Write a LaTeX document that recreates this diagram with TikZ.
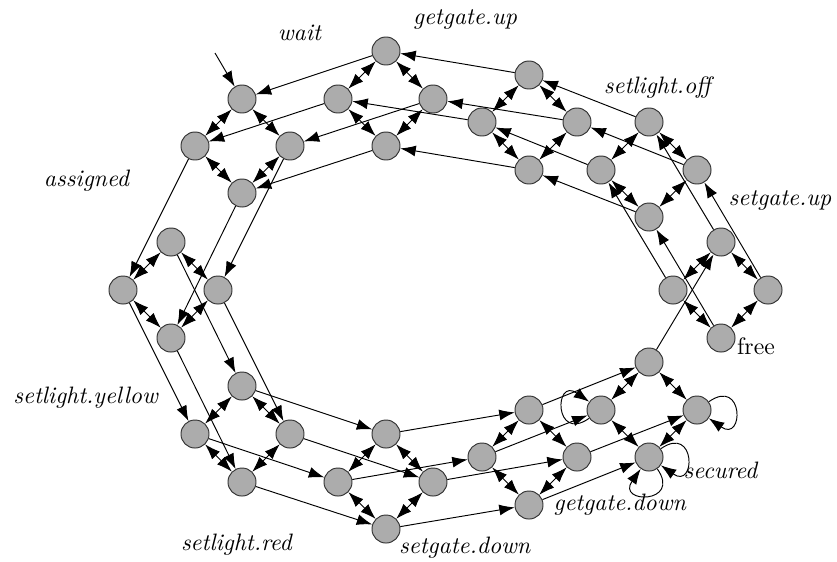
\documentclass[tikz,border=0pt]{standalone}
\usetikzlibrary{arrows.meta}
\begin{document}
\begin{tikzpicture}[scale=0.148]
    \tikzstyle{every node}+=[inner sep=0pt]
    \tikzstyle{state}=[circle, draw=black!80, fill=gray!65, minimum size=11.8pt]
    \tikzstyle{trans}=[black, -{Latex[length=6.5pt,width=4.6pt]}]
    \tikzstyle{both}=[black, {Latex[length=6.5pt,width=4.6pt]}-{Latex[length=6.5pt,width=4.6pt]}]
    \useasboundingbox (0,0) rectangle (83.7,-56.1);
    % wait
    \node [state] (d1t) at (24.2,-9.9) {};
    \node [state] (d1l) at (19.5,-14.6) {};
    \node [state] (d1r) at (29.0,-14.6) {};
    \node [state] (d1b) at (24.2,-19.3) {};
    % getgate.up
    \node [state] (d2t) at (38.6,-5.1) {};
    \node [state] (d2l) at (33.8,-9.9) {};
    \node [state] (d2r) at (43.3,-9.9) {};
    \node [state] (d2b) at (38.6,-14.6) {};
    \node [state] (d3t) at (52.9,-7.5) {};
    \node [state] (d3l) at (48.2,-12.2) {};
    \node [state] (d3r) at (57.7,-12.2) {};
    \node [state] (d3b) at (52.9,-17.0) {};
    % setlight.off
    \node [state] (d4t) at (64.9,-12.2) {};
    \node [state] (d4l) at (60.1,-17.0) {};
    \node [state] (d4r) at (69.7,-17.0) {};
    \node [state] (d4b) at (64.9,-21.7) {};
    % setgate.up
    \node [state] (d5t) at (72.1,-24.2) {};
    \node [state] (d5l) at (67.3,-29.0) {};
    \node [state] (d5r) at (76.8,-29.0) {};
    \node [state] (d5b) at (72.1,-33.8) {};
    % secured
    \node [state] (d6t) at (64.9,-36.2) {};
    \node [state] (d6l) at (60.1,-41.0) {};
    \node [state] (d6r) at (69.7,-41.0) {};
    \node [state] (d6b) at (64.9,-45.7) {};
    % getgate.down
    \node [state] (d7t) at (52.9,-41.0) {};
    \node [state] (d7l) at (48.2,-45.7) {};
    \node [state] (d7r) at (57.7,-45.7) {};
    \node [state] (d7b) at (52.9,-50.5) {};
    % setgate.down
    \node [state] (d8t) at (38.6,-43.4) {};
    \node [state] (d8l) at (33.8,-48.2) {};
    \node [state] (d8r) at (43.3,-48.2) {};
    \node [state] (d8b) at (38.6,-52.9) {};
    % setlight.red
    \node [state] (d9t) at (24.2,-38.6) {};
    \node [state] (d9l) at (19.5,-43.4) {};
    \node [state] (d9r) at (29.0,-43.4) {};
    \node [state] (d9b) at (24.2,-48.2) {};
    % assigned
    \node [state] (d10t) at (17.1,-24.2) {};
    \node [state] (d10l) at (12.3,-29.0) {};
    \node [state] (d10r) at (21.8,-29.0) {};
    \node [state] (d10b) at (17.1,-33.8) {};
    % labels
    \node (lwait) at (30.0,-3.3) {\textit{wait}};
    \node (lgetup) at (46.5,-1.9) {\textit{getgate.up}};
    \node (loff) at (65.9,-8.8) {\textit{setlight.off}};
    \node (lsetup) at (78.0,-20.0) {\textit{setgate.up}};
    \node (lfree) at (75.6,-34.6) {free};
    \node (lsecured) at (72.1,-47.0) {\textit{secured}};
    \node (lgetdown) at (62.0,-50.5) {\textit{getgate.down}};
    \node (lsetdown) at (46.5,-54.8) {\textit{setgate.down}};
    \node (lred) at (23.7,-54.5) {\textit{setlight.red}};
    \node (lyellow) at (8.6,-39.8) {\textit{setlight.yellow}};
    \node (lassigned) at (8.7,-18.1) {\textit{assigned}};
    % initial
    \coordinate (init) at (21.5,-5.3);
    \draw [trans] (init) -- (d1t);
    % inside the diamonds
    \draw [both] (d1t) -- (d1l);
    \draw [both] (d1t) -- (d1r);
    \draw [both] (d1l) -- (d1b);
    \draw [both] (d1r) -- (d1b);
    \draw [both] (d2t) -- (d2l);
    \draw [both] (d2t) -- (d2r);
    \draw [both] (d2l) -- (d2b);
    \draw [both] (d2r) -- (d2b);
    \draw [both] (d3t) -- (d3l);
    \draw [both] (d3t) -- (d3r);
    \draw [both] (d3l) -- (d3b);
    \draw [both] (d3r) -- (d3b);
    \draw [both] (d4t) -- (d4l);
    \draw [both] (d4t) -- (d4r);
    \draw [both] (d4l) -- (d4b);
    \draw [both] (d4r) -- (d4b);
    \draw [both] (d5t) -- (d5l);
    \draw [both] (d5t) -- (d5r);
    \draw [both] (d5l) -- (d5b);
    \draw [both] (d5r) -- (d5b);
    \draw [both] (d6t) -- (d6l);
    \draw [both] (d6t) -- (d6r);
    \draw [both] (d6l) -- (d6b);
    \draw [both] (d6r) -- (d6b);
    \draw [both] (d7t) -- (d7l);
    \draw [both] (d7t) -- (d7r);
    \draw [both] (d7l) -- (d7b);
    \draw [both] (d7r) -- (d7b);
    \draw [both] (d8t) -- (d8l);
    \draw [both] (d8t) -- (d8r);
    \draw [both] (d8l) -- (d8b);
    \draw [both] (d8r) -- (d8b);
    \draw [both] (d9t) -- (d9l);
    \draw [both] (d9t) -- (d9r);
    \draw [both] (d9l) -- (d9b);
    \draw [both] (d9r) -- (d9b);
    \draw [both] (d10t) -- (d10l);
    \draw [both] (d10t) -- (d10r);
    \draw [both] (d10l) -- (d10b);
    \draw [both] (d10r) -- (d10b);
    % around the ring
    \draw [trans] (d2t) -- (d1t);
    \draw [trans] (d2l) -- (d1l);
    \draw [trans] (d2r) -- (d1r);
    \draw [trans] (d2b) -- (d1b);
    \draw [trans] (d3t) -- (d2t);
    \draw [trans] (d3l) -- (d2l);
    \draw [trans] (d3r) -- (d2r);
    \draw [trans] (d3b) -- (d2b);
    \draw [trans] (d4t) -- (d3t);
    \draw [trans] (d4l) -- (d3l);
    \draw [trans] (d4r) -- (d3r);
    \draw [trans] (d4b) -- (d3b);
    \draw [trans] (d5t) -- (d4t);
    \draw [trans] (d5l) -- (d4l);
    \draw [trans] (d5r) -- (d4r);
    \draw [trans] (d5b) -- (d4b);
    \draw [trans] (d6t) -- (d5t);
    \draw [trans] (d7t) -- (d6t);
    \draw [trans] (d7l) -- (d6l);
    \draw [trans] (d7r) -- (d6r);
    \draw [trans] (d7b) -- (d6b);
    \draw [trans] (d8t) -- (d7t);
    \draw [trans] (d8l) -- (d7l);
    \draw [trans] (d8r) -- (d7r);
    \draw [trans] (d8b) -- (d7b);
    \draw [trans] (d9t) -- (d8t);
    \draw [trans] (d9l) -- (d8l);
    \draw [trans] (d9r) -- (d8r);
    \draw [trans] (d9b) -- (d8b);
    \draw [trans] (d10t) -- (d9t);
    \draw [trans] (d10l) -- (d9l);
    \draw [trans] (d10r) -- (d9r);
    \draw [trans] (d10b) -- (d9b);
    \draw [trans] (d1l) -- (d10l);
    \draw [trans] (d1r) -- (d10r);
    \draw [trans] (d1b) -- (d10b);
    % self loops
    \draw [trans] (d6l.215) .. controls +(215:4.3) and +(145:4.3) .. (d6l.145);
    \draw [trans] (d6r.35) .. controls +(35:4.3) and +(-35:4.3) .. (d6r.-35);
    \draw [trans] (d6b.35) .. controls +(35:4.3) and +(-35:4.3) .. (d6b.-35);
    \draw [trans] (d6b.-55) .. controls +(-55:4.3) and +(-125:4.3) .. (d6b.-125);
\end{tikzpicture}
\end{document}
